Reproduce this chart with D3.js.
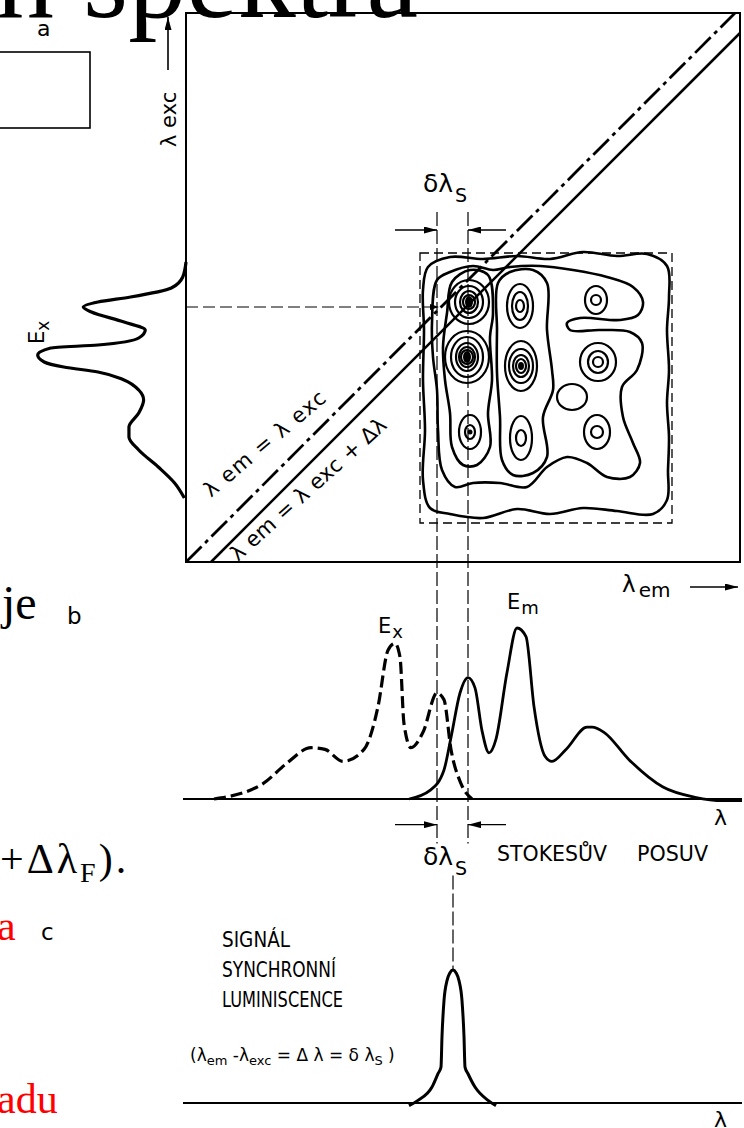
<!DOCTYPE html>
<html><head><meta charset="utf-8">
<script src="https://cdn.jsdelivr.net/npm/d3@7"></script>
<style>
html,body{margin:0;padding:0;background:#fff;}
svg{display:block;}
text{font-family:"DejaVu Sans",sans-serif;fill:#000;}
.serif{font-family:"Liberation Serif","Times New Roman",serif;}
</style></head><body>
<svg id="fig" width="744" height="1128"></svg>
<script>
// ---------- data ----------
// panel b: excitation (dashed) and emission (solid) spectra, [λ nm, relative intensity]
const exSpectrum = [[278,0],[327,9],[351,21],[375,30],[389,29],[407,22],[428,29],[442,54],[452,87],[459,91],[464,83],[468,44],[475,30],[487,39],[501,62],[508,58],[515,29],[525,9],[536,0]];
const emSpectrum = [[473,0],[494,5],[508,17],[515,36],[524,62],[532,71],[539,65],[546,40],[553,27],[560,35],[571,74],[581,100],[590,95],[598,54],[609,25],[616,22],[630,29],[651,42],[656,42],[668,39],[693,23],[727,7],[759,1],[787,-1],[806,-1]];
// panel a: excitation profile drawn along the λexc axis, [λexc nm, relative intensity]
const exProfile = [[550,0],[535,2],[524,9],[515,34],[510,54],[505,63],[500,58],[490,38],[482,25],[474,29],[467,54],[464,83],[457,91],[450,87],[445,75],[440,54],[432,38],[422,29],[412,26],[399,29],[385,35],[375,35],[362,29],[345,17],[329,7],[314,1]];
// panel c: synchronous luminescence signal, [λ nm, relative intensity]
const syncSignal = [[473,-2],[482,2],[496,12],[502,22],[505,27],[506,50],[508,77],[511,92],[514,98],[517,100],[520,98],[523,92],[526,77],[528,50],[529,27],[532,22],[539,12],[552,2],[560,-2]];

// contour lines of the excitation–emission map, [λem, λexc]
const contourOuter = [[492,545],[514,555],[547,553],[581,556],[614,553],[647,560],[681,556],[711,558],[731,546],[733,515],[731,482],[733,442],[731,409],[733,375],[732,342],[731,312],[717,298],[681,301],[647,304],[614,298],[581,303],[547,294],[514,298],[494,304],[487,332],[489,382],[487,432],[488,482],[487,522]];
const contourMiddle = [[501,532],[514,540],[537,546],[557,542],[574,545],[604,546],[637,542],[671,535],[697,525],[707,510],[702,497],[684,492],[644,494],[631,489],[634,482],[664,482],[694,480],[706,469],[701,442],[686,425],[687,395],[697,369],[704,349],[694,335],[671,335],[651,349],[631,355],[611,345],[591,325],[564,329],[537,329],[519,325],[506,342],[502,382],[501,422],[497,455],[496,489]];
const contourLeftBand = [[534,542],[552,537],[557,499],[554,475],[556,432],[552,399],[554,365],[541,347],[527,347],[516,365],[514,399],[509,432],[507,465],[511,499],[516,530]];
const contourCentreBand = [[574,540],[597,542],[611,529],[611,482],[616,442],[617,422],[607,395],[611,355],[597,339],[577,337],[566,352],[564,395],[561,439],[561,482],[562,529]];
// local maxima: centre [λem, λexc], ring half-widths [nm, nm], filled core
const peaks = [
  {c:[533,510], rings:[[20,22],[14,16],[9,11],[6,7]], core:[4,6]},
  {c:[531,455], rings:[[22,26],[16,20],[11,14],[8,10],[6,7]], core:[4,6]},
  {c:[534,380], rings:[[11,17],[5,7]], core:[2.5,2.5]},
  {c:[584,506], rings:[[13,22],[8,14],[4,6]], core:null},
  {c:[585,446], rings:[[16,25],[12,17],[8,11],[5,7]], core:[3,4]},
  {c:[585,374], rings:[[11,22],[5,8]], core:null},
  {c:[660,512], rings:[[11,14],[5,5]], core:null},
  {c:[662,450], rings:[[18,19],[10,11],[5,5]], core:null},
  {c:[661,380], rings:[[13,17],[6,6]], core:null},
  {c:[636,415], rings:[[15,13]], core:null}
];

const scanEm = [484, 736];       // scanned λem window
const scanExc = [289, 559];      // scanned λexc window
const stokesLambda = [501, 532]; // Ex maximum, Em maximum
const exPeakExc = 505;           // Ex maximum on the λexc axis
const syncLambda = 517;          // synchronous signal maximum
const deltaLambda = 25;          // offset of the scan line

// ---------- scales ----------
const svg = d3.select("#fig");
svg.append("rect").attr("width",744).attr("height",1128).attr("fill","#fff");

const x = d3.scaleLinear().domain([250,804]).range([186,740]);
const yExc = d3.scaleLinear().domain([250,799]).range([562,13]);
const iProfile = d3.scaleLinear().domain([0,100]).range([186,23]);
const yB = d3.scaleLinear().domain([0,100]).range([799,628]);
const yC = d3.scaleLinear().domain([0,100]).range([1103,970]);

const defs = svg.append("defs");
function marker(id, w, h){
  defs.append("marker").attr("id",id).attr("viewBox","0 0 10 10")
    .attr("refX",10).attr("refY",5).attr("markerWidth",w).attr("markerHeight",h)
    .attr("markerUnits","userSpaceOnUse").attr("orient","auto")
    .attr("preserveAspectRatio","none")
    .append("path").attr("d","M0,0 L10,5 L0,10 Z").attr("fill","#000");
}
marker("arr",13,7);
marker("arrS",9,6);

// ---------- slide fragments ----------
svg.append("text").attr("class","serif").attr("x",-4).attr("y",17)
  .attr("font-size",116).text("n spektra");
svg.append("text").attr("x",37).attr("y",36).attr("font-size",22).text("a");
svg.append("rect").attr("x",-2).attr("y",52).attr("width",92).attr("height",76)
  .attr("fill","#fff").attr("stroke","#000").attr("stroke-width",1.6);
svg.append("text").attr("class","serif").attr("x",2).attr("y",619).attr("font-size",48).text("je");
svg.append("text").attr("x",67).attr("y",624).attr("font-size",23).text("b");
const fr = svg.append("text").attr("class","serif").attr("x",0).attr("y",873).attr("font-size",42)
  .attr("letter-spacing",3);
fr.append("tspan").text("+Δλ");
fr.append("tspan").attr("font-size",28).attr("dy",9).text("F");
fr.append("tspan").attr("dy",-9).text(").");
svg.append("text").attr("class","serif").attr("x",-3).attr("y",940).attr("font-size",42)
  .style("fill","#ff0000").text("a");
svg.append("text").attr("x",41).attr("y",940).attr("font-size",23).text("c");
svg.append("text").attr("class","serif").attr("x",-3).attr("y",1113).attr("font-size",42)
  .style("fill","#ff0000").text("adu");

// ---------- panel a: excitation–emission map ----------
const gA = svg.append("g");
gA.append("rect")
  .attr("x",x(250)).attr("y",yExc(799))
  .attr("width",x(804)-x(250)).attr("height",yExc(250)-yExc(799))
  .attr("fill","none").attr("stroke","#000").attr("stroke-width",2);

// scanned window
gA.append("rect")
  .attr("x",x(scanEm[0])).attr("y",yExc(scanExc[1]))
  .attr("width",x(scanEm[1])-x(scanEm[0])).attr("height",yExc(scanExc[0])-yExc(scanExc[1]))
  .attr("fill","none").attr("stroke","#000").attr("stroke-width",1.3).attr("stroke-dasharray","9,5");

// contours
const closed = d3.line().x(d=>x(d[0])).y(d=>yExc(d[1])).curve(d3.curveCatmullRomClosed.alpha(0.5));
[contourOuter, contourMiddle, contourLeftBand, contourCentreBand].forEach(c=>{
  gA.append("path").attr("d",closed(c)).attr("fill","none").attr("stroke","#000").attr("stroke-width",2.6);
});
peaks.forEach(p=>{
  const cx = x(p.c[0]), cy = yExc(p.c[1]);
  p.rings.forEach(r=>{
    gA.append("ellipse").attr("cx",cx).attr("cy",cy)
      .attr("rx",x(p.c[0]+r[0])-cx).attr("ry",cy-yExc(p.c[1]+r[1]))
      .attr("fill","none").attr("stroke","#000").attr("stroke-width",2.2);
  });
  if(p.core){
    gA.append("ellipse").attr("cx",cx).attr("cy",cy)
      .attr("rx",x(p.c[0]+p.core[0])-cx).attr("ry",cy-yExc(p.c[1]+p.core[1])).attr("fill","#000");
  }
});

// diagonals λem = λexc and λem = λexc + Δλ
gA.append("line").attr("x1",x(250)).attr("y1",yExc(250)).attr("x2",x(799)).attr("y2",yExc(799))
  .attr("stroke","#000").attr("stroke-width",2.8).attr("stroke-dasharray","22,5,4,5");
gA.append("line").attr("x1",x(250+deltaLambda)).attr("y1",yExc(250))
  .attr("x2",x(804)).attr("y2",yExc(804-deltaLambda))
  .attr("stroke","#000").attr("stroke-width",2.5);

// excitation profile along the left edge
const prof = d3.line().x(d=>iProfile(d[1])).y(d=>yExc(d[0])).curve(d3.curveMonotoneY);
gA.append("path").attr("d",prof(exProfile)).attr("fill","none").attr("stroke","#000").attr("stroke-width",3.2);

// horizontal guide at the Ex maximum
gA.append("line").attr("x1",x(250)).attr("y1",yExc(exPeakExc)).attr("x2",x(stokesLambda[0]+2)).attr("y2",yExc(exPeakExc))
  .attr("stroke","#000").attr("stroke-width",1).attr("stroke-dasharray","12,5").attr("marker-end","url(#arrS)");

// axis arrows
gA.append("line").attr("x1",168).attr("y1",70).attr("x2",168).attr("y2",17)
  .attr("stroke","#000").attr("stroke-width",1.6).attr("marker-end","url(#arr)");
gA.append("text").attr("transform","translate(176,147) rotate(-90)").attr("font-size",21).text("λ exc");
gA.append("line").attr("x1",690).attr("y1",587).attr("x2",738).attr("y2",587)
  .attr("stroke","#000").attr("stroke-width",1.6).attr("marker-end","url(#arr)");
const lem = gA.append("text").attr("x",622).attr("y",592).attr("font-size",23);
lem.append("tspan").text("λ");
lem.append("tspan").attr("font-size",20).attr("dy",5).attr("dx",3).text("em");

const exl = gA.append("text").attr("transform","translate(44,344) rotate(-90)").attr("font-size",21);
exl.append("tspan").text("E");
exl.append("tspan").attr("font-size",17).attr("dy",5).text("x");

// diagonal labels
gA.append("text").attr("transform","translate(211,498) rotate(-40)")
  .attr("font-size",21).attr("textLength",152).attr("lengthAdjust","spacing").text("λ em = λ exc");
gA.append("text").attr("transform","translate(238,562) rotate(-42)")
  .attr("font-size",21).attr("textLength",202).attr("lengthAdjust","spacing").text("λ em = λ exc + Δλ");

// ---------- Stokes shift markers ----------
stokesLambda.forEach(l=>{
  svg.append("line").attr("x1",x(l)).attr("x2",x(l)).attr("y1",yExc(600)).attr("y2",yB(-26))
    .attr("stroke","#000").attr("stroke-width",1.2).attr("stroke-dasharray","14,4");
});
[yExc(582), yB(-15)].forEach(yy=>{
  svg.append("line").attr("x1",x(stokesLambda[0]-42)).attr("x2",x(stokesLambda[0])).attr("y1",yy).attr("y2",yy)
    .attr("stroke","#000").attr("stroke-width",1.4).attr("marker-end","url(#arr)");
  svg.append("line").attr("x1",x(stokesLambda[1]+38)).attr("x2",x(stokesLambda[1])).attr("y1",yy).attr("y2",yy)
    .attr("stroke","#000").attr("stroke-width",1.4).attr("marker-end","url(#arr)");
});
function dls(xx, yy){
  const t = svg.append("text").attr("x",xx).attr("y",yy).attr("font-size",25);
  t.append("tspan").text("δλ");
  t.append("tspan").attr("font-size",19).attr("dy",10).attr("dx",2).text("S");
}
dls(423,192);
dls(423,865);

// ---------- panel b: Ex and Em spectra ----------
const gB = svg.append("g");
gB.append("line").attr("x1",x(247)).attr("x2",x(806)).attr("y1",yB(0)).attr("y2",yB(0))
  .attr("stroke","#000").attr("stroke-width",2);
const specLine = d3.line().x(d=>x(d[0])).y(d=>yB(d[1])).curve(d3.curveMonotoneX);
gB.append("path").attr("d",specLine(exSpectrum)).attr("fill","none").attr("stroke","#000")
  .attr("stroke-width",3.2).attr("stroke-dasharray","12,5");
gB.append("path").attr("d",specLine(emSpectrum)).attr("fill","none").attr("stroke","#000").attr("stroke-width",2.8);
const exT = gB.append("text").attr("x",378).attr("y",633).attr("font-size",21);
exT.append("tspan").text("E");
exT.append("tspan").attr("font-size",18).attr("dy",5).attr("dx",1).text("x");
const emT = gB.append("text").attr("x",507).attr("y",609).attr("font-size",21);
emT.append("tspan").text("E");
emT.append("tspan").attr("font-size",18).attr("dy",5).attr("dx",1).text("m");
gB.append("text").attr("x",714).attr("y",825).attr("font-size",22).text("λ");
gB.append("text").attr("x",497).attr("y",861).attr("font-size",21).attr("textLength",110)
  .attr("lengthAdjust","spacingAndGlyphs").text("STOKESŮV");
gB.append("text").attr("x",637).attr("y",861).attr("font-size",21).attr("textLength",71)
  .attr("lengthAdjust","spacingAndGlyphs").text("POSUV");

// ---------- panel c: synchronous signal ----------
const gC = svg.append("g");
gC.append("line").attr("x1",x(247)).attr("x2",x(806)).attr("y1",yC(0)).attr("y2",yC(0))
  .attr("stroke","#000").attr("stroke-width",2);
gC.append("line").attr("x1",x(syncLambda)).attr("x2",x(syncLambda)).attr("y1",yC(171)).attr("y2",yC(100))
  .attr("stroke","#000").attr("stroke-width",1.2).attr("stroke-dasharray","14,4");
const syncLine = d3.line().x(d=>x(d[0])).y(d=>yC(d[1])).curve(d3.curveMonotoneX);
gC.append("path").attr("d",syncLine(syncSignal)).attr("fill","none").attr("stroke","#000").attr("stroke-width",3);
[["SIGNÁL",947,68],["SYNCHRONNÍ",977,114],["LUMINISCENCE",1007,121]].forEach(t=>{
  gC.append("text").attr("x",222).attr("y",t[1]).attr("font-size",21).attr("textLength",t[2])
    .attr("lengthAdjust","spacingAndGlyphs").text(t[0]);
});
const cond = gC.append("text").attr("x",190).attr("y",1061).attr("font-size",17);
cond.append("tspan").text("(λ");
cond.append("tspan").attr("font-size",13).attr("dy",4).text("em");
cond.append("tspan").attr("dy",-4).text(" -λ");
cond.append("tspan").attr("font-size",13).attr("dy",4).text("exc");
cond.append("tspan").attr("dy",-4).text(" = Δ λ = δ λ");
cond.append("tspan").attr("font-size",13).attr("dy",4).text("S");
cond.append("tspan").attr("dy",-4).text(" )");
gC.append("text").attr("x",714).attr("y",1127).attr("font-size",22).text("λ");
</script>
</body></html>
